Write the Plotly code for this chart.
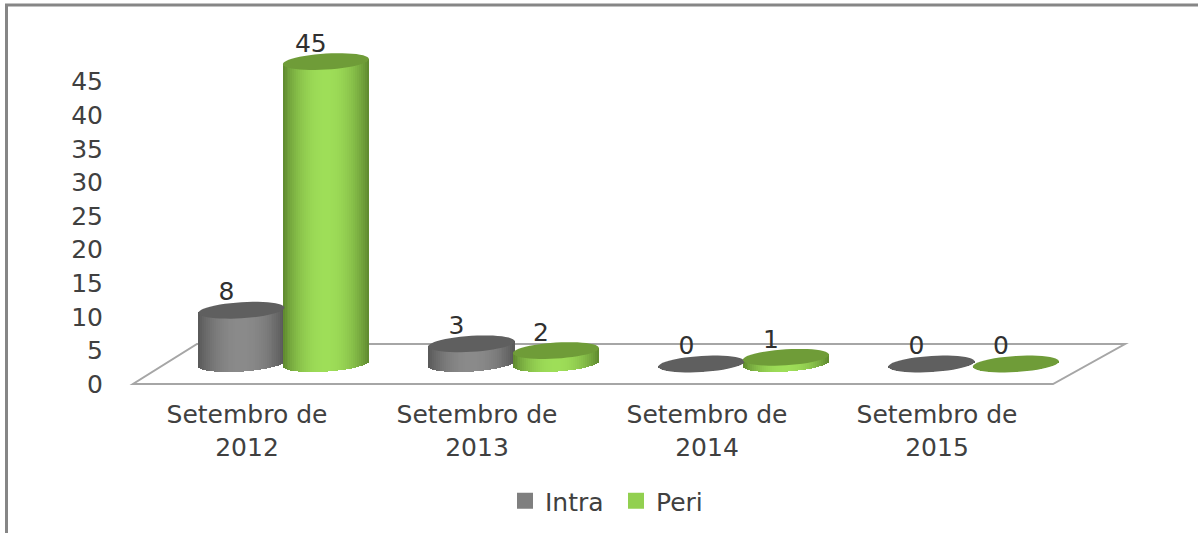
import math
import plotly.graph_objects as go

# ---- data ----
categories = ["Setembro de<br>2012", "Setembro de<br>2013", "Setembro de<br>2014", "Setembro de<br>2015"]
intra = [8, 3, 0, 0]
peri = [45, 2, 1, 0]
y_ticks = [0, 5, 10, 15, 20, 25, 30, 35, 40, 45]

# ---- page geometry (pixels) ----
W, H = 1198, 533
PX_X = 230.0            # pixels per category
PX_Y = 6.72             # pixels per value unit
AX_L = 132              # left end of the category axis
X_RANGE = [-0.5, 3.935]
AX_R = AX_L + (X_RANGE[1] - X_RANGE[0]) * PX_X
AX_BOTTOM = 384         # value 0 on the tick axis
BAR_ZERO = 364          # value 0 on the cylinders' floor
Y_TOP_VALUE = 55
AX_TOP = AX_BOTTOM - Y_TOP_VALUE * PX_Y
shift = (AX_BOTTOM - BAR_ZERO) / PX_Y

A, B, K = 43.0, 8.0, 0.06   # cylinder half width, ellipse half height, tilt (px)
N = 44                      # shading strips per cylinder
TEXT = "#404040"
FONT = "DejaVu Sans"
SIZE = 25

series = [
    dict(name="Intra", values=intra, off=-0.024, edge=(88, 88, 88), mid=(138, 138, 138),
         top="#5f5f5f", key="#7f7f7f"),
    dict(name="Peri", values=peri, off=0.343, edge=(94, 136, 46), mid=(158, 222, 88),
         top="#6f9c38", key="#92d050"),
]


def shade(edge, mid, u):
    w = (1 - abs(u) ** 2.2)
    return "rgb(%d,%d,%d)" % tuple(round(e + (m - e) * w) for e, m in zip(edge, mid))


fig = go.Figure()
shapes = []


def px(x):
    return x / W


def py(y):
    return 1 - y / H


# floor outline and frame, under the marks
floor = [(133, 384), (1053, 384), (1125, 344), (197, 344)]
shapes.append(dict(type="path", xref="paper", yref="paper", layer="below",
                   path="M" + " L".join(f"{px(x)},{py(y)}" for x, y in floor) + " Z",
                   line=dict(color="#a6a6a6", width=2), fillcolor="rgba(0,0,0,0)"))
shapes.append(dict(type="line", xref="paper", yref="paper", layer="below",
                   x0=px(6.5), x1=px(6.5), y0=py(5), y1=0, line=dict(color="#868686", width=3)))
shapes.append(dict(type="line", xref="paper", yref="paper", layer="below",
                   x0=px(5), x1=1, y0=py(5), y1=py(5), line=dict(color="#868686", width=3)))

for s in series:
    xs, bases, hs, cols, widths = [], [], [], [], []
    for i, v in enumerate(s["values"]):
        cx = i + s["off"]
        for j in range(N):
            u = (j + 0.5) / N * 2 - 1
            dx = u * A
            low = (K * dx - B * math.sqrt(1 - u * u)) / PX_Y
            xs.append(cx + dx / PX_X)
            bases.append(low)
            hs.append(v + K * dx / PX_Y - low)
            cols.append(shade(s["edge"], s["mid"], u))
            widths.append((2 * A / N + 0.6) / PX_X)
        pts = []
        for t in range(48):
            a = 2 * math.pi * t / 48
            dx = A * math.cos(a)
            dy = B * math.sin(a) + K * dx
            pts.append(f"{cx + dx / PX_X},{v + dy / PX_Y}")
        shapes.append(dict(type="path", xref="x", yref="y2", layer="above",
                           path="M" + " L".join(pts) + " Z",
                           line=dict(width=0), fillcolor=s["top"]))
    fig.add_trace(go.Bar(x=xs, y=hs, base=bases, width=widths, yaxis="y2", xaxis="x",
                         marker=dict(color=cols, line=dict(width=0)),
                         showlegend=False, hoverinfo="skip"))
    # value labels
    fig.add_trace(go.Scatter(
        x=[i + s["off"] - 15 / PX_X for i in range(len(s["values"]))],
        y=[v + 16 / PX_Y for v in s["values"]],
        yaxis="y2", mode="text", text=[str(v) for v in s["values"]],
        textposition="middle center", cliponaxis=False,
        textfont=dict(family=FONT, size=SIZE, color="#303030"),
        showlegend=False, hoverinfo="skip"))

# legend keys
for s in series:
    fig.add_trace(go.Scatter(x=[None], y=[None], mode="markers", name=s["name"],
                             marker=dict(symbol="square", size=16, color=s["key"])))

fig.update_layout(
    width=W, height=H, autosize=False,
    margin=dict(l=0, r=0, t=0, b=0, autoexpand=False),
    paper_bgcolor="white", plot_bgcolor="rgba(0,0,0,0)",
    barmode="overlay", bargap=0,
    shapes=shapes,
    font=dict(family=FONT, color=TEXT, size=SIZE),
    xaxis=dict(domain=[AX_L / W, AX_R / W], range=X_RANGE, tickmode="array",
               tickvals=list(range(len(categories))), ticktext=categories,
               showgrid=False, zeroline=False, showline=False, ticks="",
               ticklabelstandoff=13, anchor="y", automargin=False,
               tickfont=dict(family=FONT, size=SIZE, color=TEXT)),
    yaxis=dict(domain=[1 - AX_BOTTOM / H, 1 - AX_TOP / H], range=[0, Y_TOP_VALUE],
               tickmode="array", tickvals=y_ticks, ticktext=[str(t) for t in y_ticks],
               showgrid=False, zeroline=False, showline=False, ticks="",
               ticklabelstandoff=28, anchor="x", automargin=False,
               tickfont=dict(family=FONT, size=SIZE, color=TEXT)),
    yaxis2=dict(domain=[1 - AX_BOTTOM / H, 1 - AX_TOP / H], overlaying="y",
                range=[-shift, Y_TOP_VALUE - shift], visible=False, anchor="x"),
    legend=dict(orientation="h", x=505 / W, xanchor="left", y=1 - 501 / H, yanchor="middle",
                font=dict(family=FONT, size=SIZE, color=TEXT), bgcolor="rgba(0,0,0,0)",
                itemwidth=30, entrywidth=66, entrywidthmode="pixels", traceorder="normal"),
)

fig.write_html("out.html", config=dict(displayModeBar=False),
               post_script="document.body.style.margin='0';document.documentElement.style.overflow='hidden';")
